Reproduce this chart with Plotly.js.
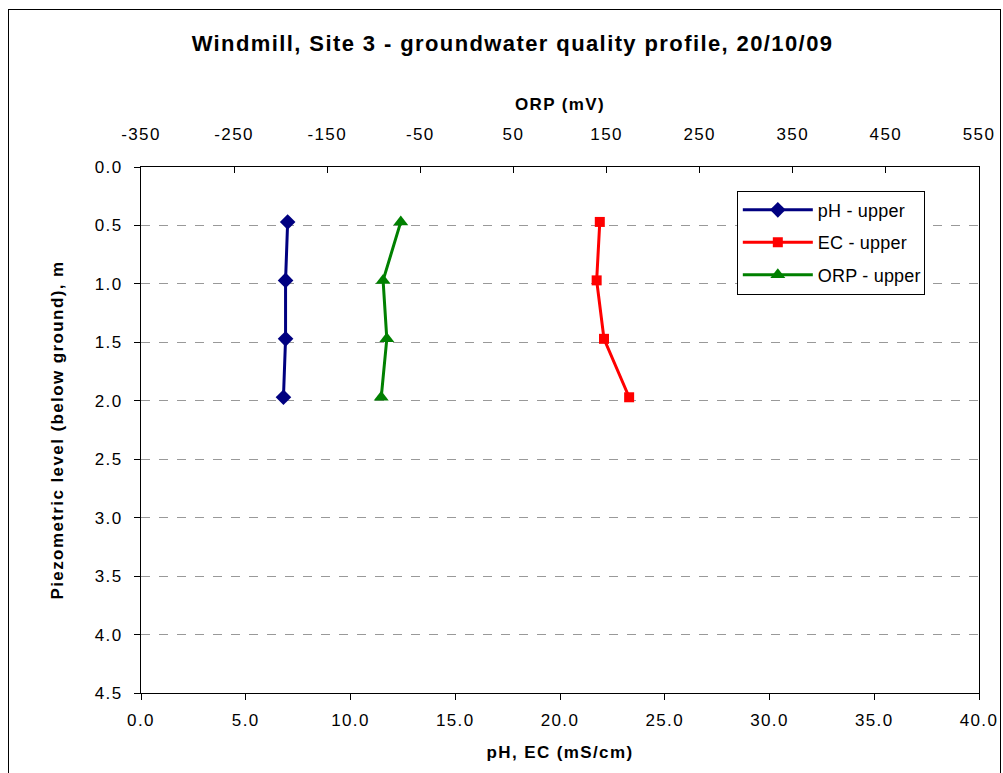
<!DOCTYPE html>
<html>
<head>
<meta charset="utf-8">
<script src="https://cdn.plot.ly/plotly-3.0.1.min.js"></script>
<style>
html,body{margin:0;padding:0;background:#fff;}
#chart{position:absolute;left:0;top:0;width:1003px;height:773px;}
#chart text{letter-spacing:1.4px;}
#chart .legend text.legendtext{letter-spacing:0.2px;}
#frame{position:absolute;left:8px;top:9px;width:991px;height:800px;border:1px solid #000;pointer-events:none;}
</style>
</head>
<body>
<div id="chart"></div>
<div id="frame"></div>
<script>
// Data
const depth = [0.47, 0.97, 1.47, 1.97];
const phUpper = [7.0, 6.9, 6.9, 6.8];
const ecUpper = [21.9, 21.75, 22.1, 23.3];
const orpUpper = [-71, -90, -86, -92];
const seriesNames = ["pH - upper", "EC - upper", "ORP - upper"];
const orpTicks = [-350, -250, -150, -50, 50, 150, 250, 350, 450, 550];
const orpTickText = ["-350", "-250", "-150", "-50", "50", "150", "250", "350", "450", "550"];

const font = "Liberation Sans, Arial, sans-serif";

const traces = [
  {x: phUpper, y: depth, name: seriesNames[0], legendgroup: "a", mode: "lines+markers", xaxis: "x", yaxis: "y",
   line: {color: "#000080", width: 3}, marker: {symbol: "diamond", size: 12, color: "#000080"}},
  {x: ecUpper, y: depth, name: seriesNames[1], legendgroup: "b", mode: "lines+markers", xaxis: "x", yaxis: "y",
   line: {color: "#ff0000", width: 3}, marker: {symbol: "square", size: 10, color: "#ff0000"}},
  {x: orpUpper, y: depth, name: seriesNames[2], legendgroup: "c", mode: "lines+markers", xaxis: "x2", yaxis: "y",
   line: {color: "#008000", width: 3}, marker: {symbol: "triangle-up", size: 13, color: "#008000"}}
];

const layout = {
  width: 1003, height: 773,
  margin: {l: 141, r: 24, t: 167, b: 80, pad: 0},
  paper_bgcolor: "#fff", plot_bgcolor: "#fff",
  font: {family: font, size: 17, color: "#000"},
  title: {text: "<b>Windmill, Site 3 - groundwater quality profile, 20/10/09</b>",
          font: {family: font, size: 22, color: "#000"}, x: 0.511, xanchor: "center", y: 0.944, yanchor: "middle"},
  showlegend: true,
  legend: {x: 0.711, y: 0.955, xanchor: "left", yanchor: "top", bgcolor: "#fff",
           bordercolor: "#000", borderwidth: 1, font: {family: font, size: 18, color: "#000"},
           traceorder: "grouped", tracegroupgap: 6, itemwidth: 70},
  xaxis: {range: [0, 40], dtick: 5, tick0: 0, tickformat: ".1f", side: "bottom",
          showline: true, linecolor: "#000", linewidth: 1, mirror: false,
          ticks: "outside", ticklen: 6, tickcolor: "#000", showgrid: false, zeroline: false,
          ticklabelstandoff: 6,
          tickfont: {family: font, size: 17},
          title: {text: "<b>pH, EC (mS/cm)</b>", font: {family: font, size: 17}, standoff: 16}},
  xaxis2: {range: [-350, 550], tickmode: "array", tickvals: orpTicks, ticktext: orpTickText,
           overlaying: "x", side: "top", anchor: "y",
           showline: true, linecolor: "#000", linewidth: 1,
           ticks: "inside", ticklen: 6, tickcolor: "#000", showgrid: false, zeroline: false,
           ticklabelstandoff: 19,
           tickfont: {family: font, size: 17},
           title: {text: "<b>ORP (mV)</b>", font: {family: font, size: 17}, standoff: 10}},
  yaxis: {range: [4.5, 0], dtick: 0.5, tick0: 0, tickformat: ".1f",
          showline: true, linecolor: "#000", linewidth: 1, mirror: true,
          ticks: "outside", ticklen: 6, tickcolor: "#000",
          showgrid: true, gridcolor: "#999", griddash: "dash", gridwidth: 1, zeroline: false,
          ticklabelstandoff: 8,
          tickfont: {family: font, size: 17},
          title: {text: "<b>Piezometric level (below ground), m</b>", font: {family: font, size: 17}, standoff: 31}}
};

Plotly.newPlot("chart", traces, layout, {displayModeBar: false, staticPlot: true});
</script>
</body>
</html>
